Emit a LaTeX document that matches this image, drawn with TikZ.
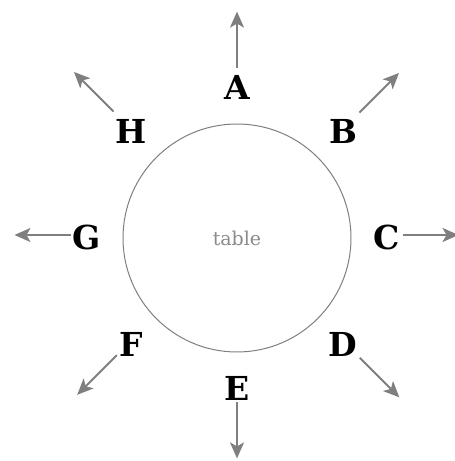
\documentclass[tikz,border=0pt]{standalone}
\usepackage{fontspec}
\setmainfont{DejaVu Serif}
\usetikzlibrary{arrows.meta,calc}
\definecolor{linegray}{HTML}{7F7F7F}
\definecolor{textgray}{HTML}{8A8A8A}
\tikzset{
  seat/.style={font=\bfseries\fontsize{16.5}{18}\selectfont, inner sep=1pt,
               text height=15pt, text depth=0pt},
  outarrow/.style={draw=linegray, line width=1pt, -{Stealth[length=8pt,width=7pt,inset=2pt]}},
}
\begin{document}
\begin{tikzpicture}[x=0.5pt,y=0.5pt]
  \useasboundingbox (0,0) rectangle (455,461);
  \coordinate (c) at (237,223);
  \node[circle, draw=linegray, line width=0.5pt, minimum size=114pt, inner sep=0pt,
        font=\fontsize{9.5}{12}\selectfont, text=textgray] (table) at (c) {table};
  % seats around the table, each with an arrow pointing away from it
  \foreach \name/\ang in {A/90, B/45, C/0, D/-45, E/-90, F/-135, G/180, H/135} {
    \node[seat] (\name) at ($(c)+(\ang:150)+(0,3)$) {\name};
    \draw[outarrow] (\name.\ang) -- ++(\ang:56);
  }
\end{tikzpicture}
\end{document}
